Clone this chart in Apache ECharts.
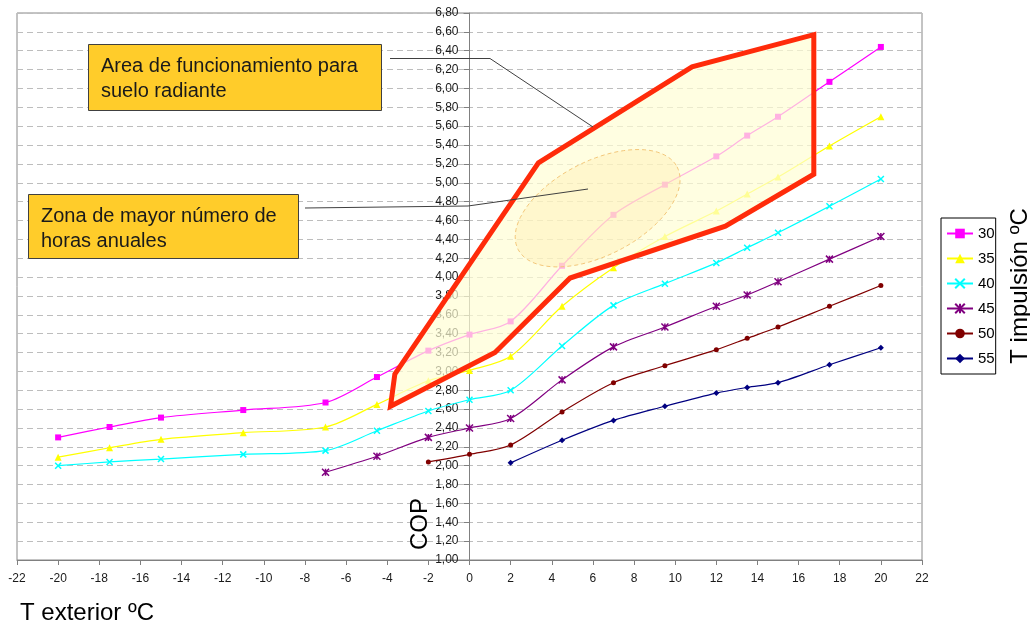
<!DOCTYPE html>
<html><head><meta charset="utf-8">
<script src="https://cdn.jsdelivr.net/npm/echarts@6/dist/echarts.min.js"></script>
<style>html,body{margin:0;padding:0;background:#fff;}#c{width:1030px;height:626px;}</style>
</head><body><div id="c"></div>
<script>
// ---- data ----
const xFull = [-20,-17.5,-15,-11,-7,-4.5,-2,0,2,4.5,7,9.5,12,13.5,15,17.5,20];
const x45 = [-7,-4.5,-2,0,2,4.5,7,9.5,12,13.5,15,17.5,20];
const x50 = [-2,0,2,4.5,7,9.5,12,13.5,15,17.5,20];
const x55 = [2,4.5,7,9.5,12,13.5,15,17.5,20];
const cop30 = [2.30,2.41,2.51,2.59,2.67,2.94,3.22,3.39,3.53,4.12,4.66,4.98,5.28,5.50,5.70,6.07,6.44];
const cop35 = [2.09,2.19,2.28,2.35,2.41,2.65,2.90,3.01,3.16,3.69,4.10,4.43,4.70,4.88,5.06,5.39,5.70];
const cop40 = [2.00,2.04,2.07,2.12,2.16,2.37,2.58,2.70,2.80,3.27,3.70,3.93,4.15,4.31,4.47,4.75,5.04];
const cop45 = [1.93,2.10,2.30,2.40,2.50,2.91,3.26,3.47,3.69,3.81,3.95,4.19,4.43];
const cop50 = [2.04,2.12,2.22,2.57,2.88,3.06,3.23,3.35,3.47,3.69,3.91];
const cop55 = [2.03,2.27,2.48,2.63,2.77,2.83,2.88,3.07,3.25];
const seriesNames = ['30','35','40','45','50','55'];
// operating area polygon (T exterior, COP)
const polyX = [-3.84,-3.63,3.35,10.82,16.74,16.74,12.44,4.89,1.24];
const polyY = [2.63,2.97,5.21,6.23,6.57,5.09,4.54,3.99,3.20];
// ellipse: centre, end of major semi-axis, end of minor semi-axis
const ellCenter = [6.23,4.73];
const ellMajor = [10.09,5.17];
const ellMinor = [7.31,4.29];

const pairs = (xs, ys) => xs.map((x,i)=>[x, ys[i]]);
const font = 'Arial, "Liberation Sans", sans-serif';
const fmt = v => v.toFixed(2).replace('.', ',');

function lineSeries(name, xs, ys, color, symbol, size, extra) {
  return Object.assign({
    name, type:'line', data: pairs(xs, ys), smooth: 0.3, z: 2,
    symbol, symbolSize: size, showSymbol: true,
    lineStyle: {color, width: 1.2},
    itemStyle: {color, borderColor: color, borderWidth: 0},
    emphasis: {disabled: true}
  }, extra || {});
}

const GRID_LEFT = 17;
const chart = echarts.init(document.getElementById('c'), null, {renderer:'canvas'});
const option = {
  animation: false,
  backgroundColor: '#fff',
  grid: {left: GRID_LEFT, right: 108, top: 13, bottom: 66, show: true, borderColor: '#888', borderWidth: 1, outerBoundsMode: 'none', containLabel: false},
  xAxis: {
    type: 'value', min: -22, max: 22, interval: 2,
    axisLine: {onZero: false, lineStyle: {color: '#808080'}},
    axisTick: {show: true, length: 5, lineStyle: {color: '#808080'}},
    axisLabel: {fontFamily: font, fontSize: 12, color: '#1a1a1a', margin: 13},
    splitLine: {show: false}
  },
  yAxis: {
    type: 'value', min: 1, max: 6.8, interval: 0.2, position: 'left', offset: 0,
    axisLine: {show: true, onZero: false, lineStyle: {color: '#808080'}},
    axisTick: {show: true, length: 6, lineStyle: {color: '#808080'}},
    axisLabel: {fontFamily: font, fontSize: 12, color: '#1a1a1a', margin: 11, formatter: fmt},
    splitLine: {show: true, lineStyle: {color: '#BDBDBD', type: [6,4], width: 1}}
  },
  legend: {
    data: seriesNames, orient: 'vertical', left: 941, top: 218,
    borderColor: '#000', borderWidth: 1, padding: [8, 1, 8, 5],
    itemWidth: 26, itemHeight: 12, itemGap: 10,
    textStyle: {fontFamily: font, fontSize: 15, color: '#000', lineHeight: 13},
    selectedMode: false
  },
  series: [
    lineSeries('30', xFull, cop30, '#FF00FF', 'rect', 6),
    lineSeries('35', xFull, cop35, '#FFFF00', 'triangle', 7),
    lineSeries('40', xFull, cop40, '#00FFFF', 'path://M0,0L10,10M10,0L0,10', 6, {itemStyle:{color:'#00FFFF', borderColor:'#00FFFF', borderWidth:1.5}}),
    lineSeries('45', x45, cop45, '#800080', 'path://M0,0L10,10M10,0L0,10M5,0L5,10', 7, {itemStyle:{color:'#800080', borderColor:'#800080', borderWidth:1.5}}),
    lineSeries('50', x50, cop50, '#800000', 'circle', 5),
    lineSeries('55', x55, cop55, '#000080', 'diamond', 6),
    {
      type: 'custom', z: 3, silent: true, data: pairs(polyX, polyY), encode: {x: 0, y: 1},
      renderItem: (params, api) => {
        if (params.dataIndex !== 0) return;
        const pts = polyX.map((x,i) => api.coord([x, polyY[i]]));
        return {type: 'polygon', shape: {points: pts}, style: {fill: 'rgba(255,253,212,0.7)', stroke: null}};
      }
    },
    {
      type: 'custom', z: 4, silent: true, data: [ellCenter], encode: {x: 0, y: 1},
      renderItem: (params, api) => {
        const c = api.coord(ellCenter), p1 = api.coord(ellMajor), p2 = api.coord(ellMinor);
        const u = [p1[0]-c[0], p1[1]-c[1]], v = [p2[0]-c[0], p2[1]-c[1]];
        const pts = [];
        for (let k = 0; k < 90; k++) {
          const t = k / 90 * 2 * Math.PI;
          pts.push([c[0] + u[0]*Math.cos(t) + v[0]*Math.sin(t), c[1] + u[1]*Math.cos(t) + v[1]*Math.sin(t)]);
        }
        return {type: 'polygon', shape: {points: pts}, style: {fill: 'rgba(255,236,170,0.35)', stroke: '#F3C77A', lineWidth: 1, lineDash: [4,3]}};
      }
    },
    {
      type: 'custom', z: 5, silent: true, data: pairs(polyX, polyY), encode: {x: 0, y: 1},
      renderItem: (params, api) => {
        if (params.dataIndex !== 0) return;
        const pts = polyX.map((x,i) => api.coord([x, polyY[i]]));
        return {type: 'polygon', shape: {points: pts}, style: {fill: null, stroke: '#FF2B0A', lineWidth: 5, lineJoin: 'miter'}};
      }
    }
  ],
  graphic: [
    {type:'polyline', z: 100, shape:{points:[[390,58.5],[490,58.5],[593,127]]}, style:{stroke:'#404040', lineWidth:1, fill:null}},
    {type:'polyline', z: 100, shape:{points:[[305,208],[468,206],[588,189]]}, style:{stroke:'#404040', lineWidth:1, fill:null}},
    {type:'rect', z: 100, shape:{x:88.5, y:44.5, width:293, height:66}, style:{fill:'#FFCC2A', stroke:'#404040', lineWidth:1}},
    {type:'text', z: 101, x:101, y:66.5, style:{text:'Area de funcionamiento para', font:'20px ' + font, fill:'#1a1a1a', textVerticalAlign:'middle'}},
    {type:'text', z: 101, x:101, y:91.5, style:{text:'suelo radiante', font:'20px ' + font, fill:'#1a1a1a', textVerticalAlign:'middle'}},
    {type:'rect', z: 100, shape:{x:28.5, y:194.5, width:270, height:64}, style:{fill:'#FFCC2A', stroke:'#404040', lineWidth:1}},
    {type:'text', z: 101, x:41, y:216.5, style:{text:'Zona de mayor número de', font:'20px ' + font, fill:'#1a1a1a', textVerticalAlign:'middle'}},
    {type:'text', z: 101, x:41, y:241, style:{text:'horas anuales', font:'20px ' + font, fill:'#1a1a1a', textVerticalAlign:'middle'}},
    {type:'text', z: 101, x:420, y:524, rotation: Math.PI/2, style:{text:'COP', font:'24px ' + font, fill:'#000', textAlign:'center', textVerticalAlign:'middle'}},
    {type:'text', z: 101, x:1020, y:286, rotation: Math.PI/2, style:{text:'T impulsión ºC', font:'24px ' + font, fill:'#000', textAlign:'center', textVerticalAlign:'middle'}},
    {type:'text', z: 101, x:20, y:613, style:{text:'T exterior ºC', font:'24px ' + font, fill:'#000', textVerticalAlign:'middle'}}
  ]
};
chart.setOption(option);
// move the COP axis (with its labels) onto T exterior = 0
const zeroPx = chart.convertToPixel({xAxisIndex: 0}, 0);
chart.setOption({yAxis: {offset: -(zeroPx - GRID_LEFT)}});
</script>
</body></html>
